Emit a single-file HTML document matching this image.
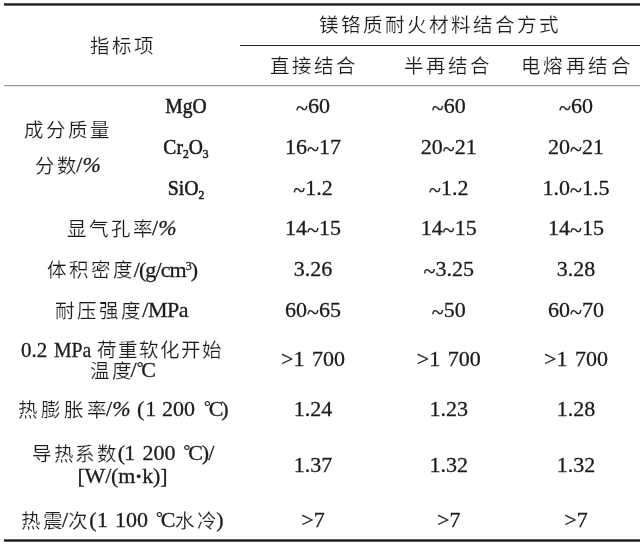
<!DOCTYPE html>
<html lang="zh-CN">
<head>
<meta charset="utf-8">
<title>镁铬质耐火材料结合方式</title>
<style>
html,body{margin:0;padding:0;background:#fff;}
html{overflow:hidden;}
body{width:643px;height:547px;position:relative;overflow:hidden;will-change:transform;
  font-family:"Liberation Serif",serif;color:#1c1c1c;-webkit-text-stroke:.3px #1c1c1c;}
.r{position:absolute;left:4px;width:636px;background:#222;}
/* numeric cells: centred on column centre */
.n{position:absolute;width:120px;margin-left:-60px;text-align:center;white-space:nowrap;
   font-size:22px;line-height:24px;height:24px;}
.n.w{word-spacing:2px;}
/* label segments: positioned by left edge */
.l{position:absolute;white-space:nowrap;font-size:22px;line-height:24px;height:24px;
   transform-origin:0 50%;}
/* label segments: positioned by centre */
.m{position:absolute;width:300px;margin-left:-150px;text-align:center;white-space:nowrap;
   font-size:22px;line-height:24px;height:24px;}
.c{font-size:19.5px;letter-spacing:2px;-webkit-text-stroke:0.2px #fff;position:relative;top:.8px;}
.j{margin-right:-3px;}
.td{position:relative;top:2px;}
.dg{font-size:17px;line-height:0;vertical-align:4px;margin-right:-2.2px;}
.e{margin-right:-2px;}
sub{font-size:13px;line-height:0;vertical-align:-4px;}
sup{font-size:12px;line-height:0;vertical-align:7px;}
</style>
</head>
<body>
<div class="r" style="top:3px;height:3px;background:linear-gradient(#555 0 1px,#1c1c1c 1px 2px,#6a6a6a 2px 3px)"></div>
<div class="r" style="top:45px;height:1px;left:240px;width:400px"></div>
<div class="r" style="top:85px;height:2px;background:linear-gradient(#999 0 1px,#e6e6e6 1px 2px)"></div>
<div class="r" style="top:539px;height:3px;background:linear-gradient(#606060 0 1px,#1c1c1c 1px 2px,#5c5c5c 2px 3px)"></div>

<!-- header -->
<div class="m" style="left:122px;top:33.6px"><span class="c e">指标项</span></div>
<div class="m" style="left:438.7px;top:12.1px"><span class="c e">镁铬质耐火材料结合方式</span></div>
<div class="m" style="left:312.5px;top:53px;width:120px;margin-left:-60px"><span class="c e">直接结合</span></div>
<div class="m" style="left:446.5px;top:53px;width:120px;margin-left:-60px"><span class="c e">半再结合</span></div>
<div class="m" style="left:575.5px;top:53px;width:120px;margin-left:-60px"><span class="c" style="letter-spacing:2.5px;margin-right:-2.5px">电熔再结合</span></div>

<!-- composition rows -->
<div class="m" style="left:67px;top:117px"><span class="c e">成分质量</span></div>
<div class="m" style="left:68px;top:153px"><span class="c j">分数</span>/<i>%</i></div>
<div class="m" style="left:186px;top:94.3px;-webkit-text-stroke-width:.55px;transform:scaleX(.89)">MgO</div>
<div class="m" style="left:186px;top:135px;-webkit-text-stroke-width:.55px;transform:scaleX(.89)">Cr<sub>2</sub>O<sub>3</sub></div>
<div class="m" style="left:186px;top:175.5px;-webkit-text-stroke-width:.55px;transform:scaleX(.9)">SiO<sub>2</sub></div>

<div class="n" style="left:313px;top:94.3px"><span class="td">~</span>60</div>
<div class="n" style="left:448.8px;top:94.3px"><span class="td">~</span>60</div>
<div class="n" style="left:576px;top:94.3px"><span class="td">~</span>60</div>
<div class="n" style="left:313px;top:135px">16<span class="td">~</span>17</div>
<div class="n" style="left:448.8px;top:135px">20<span class="td">~</span>21</div>
<div class="n" style="left:576px;top:135px">20<span class="td">~</span>21</div>
<div class="n" style="left:313px;top:175.5px"><span class="td">~</span>1.2</div>
<div class="n" style="left:448.8px;top:175.5px"><span class="td">~</span>1.2</div>
<div class="n" style="left:576px;top:175.5px">1.0<span class="td">~</span>1.5</div>

<!-- apparent porosity -->
<div class="l" style="left:67px;top:216.2px"><span class="c j">显气孔率</span>/<i>%</i></div>
<div class="n" style="left:313px;top:216.2px">14<span class="td">~</span>15</div>
<div class="n" style="left:448.8px;top:216.2px">14<span class="td">~</span>15</div>
<div class="n" style="left:576px;top:216.2px">14<span class="td">~</span>15</div>

<!-- bulk density -->
<div class="l" style="left:46.7px;top:257.7px"><span class="c" style="margin-right:-1px">体积密度</span><span style="letter-spacing:-.9px">/(g/cm<sup>3</sup>)</span></div>
<div class="n" style="left:313px;top:257.2px">3.26</div>
<div class="n" style="left:448.8px;top:257.2px"><span class="td">~</span>3.25</div>
<div class="n" style="left:576px;top:257.2px">3.28</div>

<!-- compressive strength -->
<div class="l" style="left:55px;top:298.3px"><span class="c" style="margin-right:-.7px">耐压强度</span><span style="letter-spacing:-.5px">/MPa</span></div>
<div class="n" style="left:313px;top:298.3px">60<span class="td">~</span>65</div>
<div class="n" style="left:448.8px;top:298.3px"><span class="td">~</span>50</div>
<div class="n" style="left:576px;top:298.3px">60<span class="td">~</span>70</div>

<!-- refractoriness under load -->
<div class="l" style="left:21px;top:337.5px;font-size:21px">0.2</div>
<div class="l" style="left:53.5px;top:337.5px;transform:scaleX(.9)">MPa</div>
<div class="l" style="left:96.5px;top:337.5px"><span class="c" style="letter-spacing:1.2px">荷重软化开始</span></div>
<div class="l" style="left:89.5px;top:358px"><span class="c j">温度</span>/<span class="dg">°</span>C</div>
<div class="n w" style="left:313px;top:347.3px">&gt;1 700</div>
<div class="n w" style="left:448.8px;top:347.3px">&gt;1 700</div>
<div class="n w" style="left:576px;top:347.3px">&gt;1 700</div>

<!-- thermal expansion -->
<div class="l" style="left:18px;top:397.2px"><span class="c" style="letter-spacing:3px;margin-right:-4px">热膨胀率</span>/<i>%</i></div>
<div class="l" style="left:137px;top:397.2px;letter-spacing:1px">(1</div>
<div class="l" style="left:162px;top:397.2px">200</div>
<div class="l" style="left:204px;top:397.2px"><span class="dg">°</span>C<span style="margin-left:-2px">)</span></div>
<div class="n" style="left:313px;top:397.2px">1.24</div>
<div class="n" style="left:448.8px;top:397.2px">1.23</div>
<div class="n" style="left:576px;top:397.2px">1.28</div>

<!-- thermal conductivity -->
<div class="l" style="left:32px;top:441px"><span class="c j" style="letter-spacing:1.7px">导热系数</span><span style="margin-left:2px">(</span><span style="margin-left:-1px">1</span></div>
<div class="l" style="left:142.5px;top:441px">200</div>
<div class="l" style="left:183.5px;top:441px"><span class="dg">°</span>C<span style="margin-left:-1px">)</span><span style="margin-left:-1px">/</span></div>
<div class="m" style="left:122.4px;top:463.5px;letter-spacing:-.2px">[W/(m<b>·</b>k)]</div>
<div class="n" style="left:313px;top:453.1px">1.37</div>
<div class="n" style="left:448.8px;top:453.1px">1.32</div>
<div class="n" style="left:576px;top:453.1px">1.32</div>

<!-- thermal shock -->
<div class="l" style="left:21px;top:507.8px"><span class="c j">热震</span>/<span class="c j">次</span><span style="margin-left:2px">(</span><span style="margin-left:.5px">1</span></div>
<div class="l" style="left:115px;top:507.8px">100</div>
<div class="l" style="left:156px;top:507.8px"><span class="dg">°</span>C<span class="c j">水冷</span>)</div>
<div class="n" style="left:313px;top:507.8px">&gt;7</div>
<div class="n" style="left:448.8px;top:507.8px">&gt;7</div>
<div class="n" style="left:576px;top:507.8px">&gt;7</div>
</body>
</html>
